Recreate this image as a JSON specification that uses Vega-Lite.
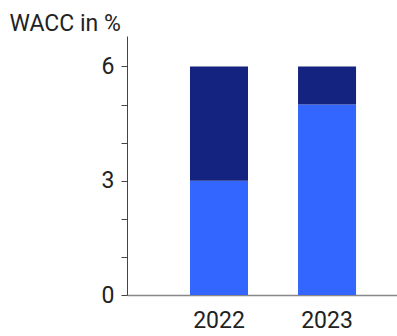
{
  "$schema": "https://vega.github.io/schema/vega-lite/v6.json",
  "autosize": "none",
  "width": 270,
  "height": 259,
  "padding": {"left": 127, "top": 36, "right": 0, "bottom": 41},
  "background": "white",
  "data": {"values": [
    {"year": "2022", "part": "a", "value": 3},
    {"year": "2022", "part": "b", "value": 3},
    {"year": "2023", "part": "a", "value": 5},
    {"year": "2023", "part": "b", "value": 1}
  ]},
  "config": {"view": {"stroke": null}, "font": "Roboto"},
  "mark": {"type": "bar"},
  "encoding": {
    "x": {"field": "year", "type": "nominal",
      "scale": {"paddingInner": 0.463, "paddingOuter": 0.481, "align": 0.606},
      "axis": {"title": null, "labelAngle": 0, "ticks": false, "domainColor": "#888888", "domainWidth": 1.5, "labelFontSize": 23, "labelColor": "#222222", "labelPadding": 14}},
    "y": {"field": "value", "type": "quantitative", "aggregate": "sum", "stack": "zero",
      "scale": {"domain": [0, 6.8], "nice": false},
      "axis": {"values": [0, 1, 2, 3, 4, 5, 6], "labelExpr": "datum.value % 3 === 0 ? datum.label : ''", "grid": false, "domainColor": "#444444", "tickColor": "#444444", "tickSize": 6, "labelFontSize": 23, "labelColor": "#222222", "labelPadding": 7,
        "title": "WACC in %", "titleAngle": 0, "titleAlign": "left", "titleBaseline": "alphabetic", "titleX": -118, "titleY": -6, "titleFontSize": 23, "titleFontWeight": "normal", "titleColor": "#222222"}},
    "color": {"field": "part", "type": "nominal", "legend": null,
      "scale": {"domain": ["a", "b"], "range": ["#3366ff", "#14237f"]}},
    "order": {"field": "part"}
  }
}
